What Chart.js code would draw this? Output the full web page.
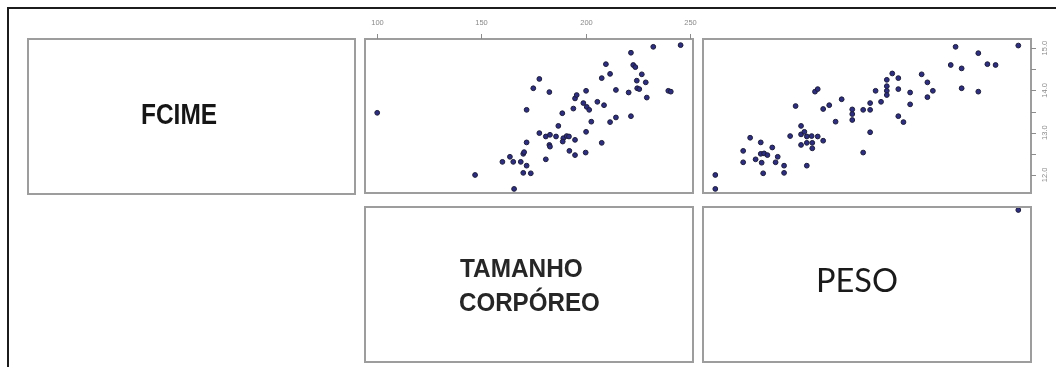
<!DOCTYPE html>
<html>
<head>
<meta charset="utf-8">
<script src="https://cdn.jsdelivr.net/npm/chart.js@4.4.1/dist/chart.umd.min.js"></script>
<style>
  html, body { margin: 0; padding: 0; background: #fff; width: 1056px; height: 367px; overflow: hidden; position: relative; }
  #frame { position: absolute; left: 7px; top: 7px; width: 1200px; height: 500px; border: 2px solid #1c1c1c; }
  .box { position: absolute; border: 2px solid #9d9d9d; box-sizing: border-box; }
  canvas { position: absolute; left: 0; top: 0; }
  .lbl { position: absolute; white-space: nowrap; transform-origin: 0 0; color: #1e1e1e; }
</style>
</head>
<body>
<div id="frame"></div>
<div class="box" style="left:27px;top:38px;width:329px;height:157px"></div>
<div class="box" style="left:364px;top:206px;width:330px;height:157px"></div>
<canvas id="c12" width="1056" height="367"></canvas>
<canvas id="c13" width="1056" height="367"></canvas>
<canvas id="c23" width="1056" height="367"></canvas>
<script>
// Variable names shown on the diagonal
const varNames = ['FCIME', 'TAMANHO', 'CORPÓREO', 'PESO'];

// Tick values
const tamanhoTicks = [100, 150, 200, 250];
const fcimeTicks = [12, 13, 14, 15];
const fcimeMinorTicks = [12.5, 13.5, 14.5];

// FCIME (y) against TAMANHO CORPÓREO (x)
const tamanho12 = [100.1, 147.0, 165.7, 160.1, 163.7, 165.3, 168.9, 170.1, 170.5, 171.7, 170.1, 173.7, 171.7, 171.7,
  174.9, 177.8, 182.6, 177.8, 180.9, 182.9, 182.6, 182.9, 180.9, 185.8, 186.9, 188.8, 189.3, 189.0, 190.9, 192.0,
  192.2, 194.9, 194.9, 194.1, 194.9, 195.7, 198.9, 200.2, 200.5, 201.7, 200.2, 200.0, 202.7, 205.6, 207.7, 208.8,
  209.7, 211.7, 207.7, 211.7, 214.5, 214.5, 220.6, 221.7, 222.8, 223.8, 224.5, 226.9, 224.7, 228.8, 225.7, 229.3,
  221.7, 232.4, 245.5, 239.6, 240.8];
const fcime12 = [13.47, 12.00, 11.67, 12.31, 12.43, 12.31, 12.31, 12.50, 12.54, 12.22, 12.05, 12.04, 12.77, 13.54,
  14.05, 14.27, 13.96, 12.99, 12.91, 12.95, 12.71, 12.67, 12.37, 12.91, 13.16, 13.46, 12.87, 12.79, 12.92, 12.91,
  12.57, 12.83, 12.47, 13.57, 13.81, 13.89, 13.70, 13.99, 13.61, 13.54, 13.02, 12.53, 13.26, 13.73, 14.29, 13.65,
  14.62, 14.39, 12.76, 13.25, 13.36, 14.01, 13.95, 14.89, 14.60, 14.55, 14.23, 14.38, 14.05, 14.19, 14.03, 13.83,
  13.39, 15.03, 15.07, 13.99, 13.97];

// FCIME (y) against PESO (x)
const peso13 = [20.0, 20.0, 29.2, 29.2, 31.5, 33.3, 35.0, 35.0, 35.3, 35.8, 36.1, 37.2, 38.8, 39.9, 40.6, 42.7, 42.7,
  44.7, 46.5, 48.3, 48.3, 48.3, 49.4, 50.2, 50.2, 50.2, 51.8, 52.0, 52.0, 53.8, 55.6, 52.9, 53.8, 55.6, 57.6, 59.7,
  61.7, 65.2, 65.2, 65.2, 68.8, 71.1, 71.1, 71.1, 68.8, 72.9, 74.7, 76.6, 76.6, 76.6, 76.6, 78.4, 80.4, 80.4, 80.4,
  82.1, 84.3, 84.3, 88.1, 90.0, 90.0, 91.8, 97.7, 99.3, 101.3, 101.3, 106.8, 106.8, 109.8, 112.5, 120.0];
const fcime13 = [12.00, 11.67, 12.57, 12.30, 12.88, 12.37, 12.77, 12.50, 12.29, 12.04, 12.51, 12.47, 12.65, 12.30,
  12.43, 12.22, 12.05, 12.92, 13.63, 13.16, 12.96, 12.71, 13.02, 12.91, 12.76, 12.22, 12.92, 12.76, 12.63, 12.91,
  12.81, 13.97, 14.03, 13.56, 13.65, 13.26, 13.79, 13.55, 13.44, 13.30, 13.54, 13.54, 13.70, 13.01, 12.53, 13.99,
  13.73, 14.25, 14.10, 13.99, 13.89, 14.40, 14.29, 14.03, 13.39, 13.25, 13.95, 13.67, 14.38, 14.19, 13.84, 13.99,
  14.60, 15.03, 14.52, 14.05, 14.88, 13.97, 14.62, 14.60, 15.06];

// TAMANHO CORPÓREO (y) against PESO (x)
const peso23 = [120.0];
const tamanho23 = [245.5];

const W = 1056, H = 367;

// Draws the panel frame plus optional top / right axes
const panelAxes = {
  id: 'panelAxes',
  afterDraw(chart, args, opts) {
    const { ctx, chartArea: a, scales } = chart;
    ctx.save();
    ctx.strokeStyle = '#9d9d9d';
    ctx.lineWidth = 2;
    ctx.strokeRect(a.left, a.top, a.right - a.left, a.bottom - a.top);

    ctx.strokeStyle = '#8c8c8c';
    ctx.fillStyle = '#8a8a8a';
    ctx.lineWidth = 1;
    ctx.font = '7.5px "Liberation Sans", Arial, sans-serif';
    if (opts.top) {
      ctx.textAlign = 'center';
      ctx.textBaseline = 'middle';
      opts.top.ticks.forEach(v => {
        const px = Math.round(scales.x.getPixelForValue(v)) + 0.5;
        ctx.beginPath();
        ctx.moveTo(px, a.top);
        ctx.lineTo(px, a.top - 5);
        ctx.stroke();
        ctx.fillText(String(v), px, a.top - 16);
      });
    }
    if (opts.right) {
      const all = opts.right.ticks.concat(opts.right.minor);
      all.forEach(v => {
        const py = Math.round(scales.y.getPixelForValue(v)) + 0.5;
        ctx.beginPath();
        ctx.moveTo(a.right, py);
        ctx.lineTo(a.right + 5, py);
        ctx.stroke();
      });
      ctx.textAlign = 'center';
      ctx.textBaseline = 'middle';
      opts.right.ticks.forEach(v => {
        const py = scales.y.getPixelForValue(v);
        ctx.save();
        ctx.translate(a.right + 14, py);
        ctx.rotate(-Math.PI / 2);
        ctx.fillText(v.toFixed(1), 0, 0);
        ctx.restore();
      });
    }
    ctx.restore();
  }
};

function panelChart(id, rect, xs, ys, xr, yr, axesOpts) {
  return new Chart(document.getElementById(id), {
    type: 'scatter',
    data: {
      datasets: [{
        data: xs.map((x, i) => ({ x: x, y: ys[i] })),
        pointRadius: 2.4,
        pointBackgroundColor: '#2e2e7e',
        pointBorderColor: '#1c1c3c',
        pointBorderWidth: 1,
        clip: false
      }]
    },
    options: {
      responsive: false,
      animation: false,
      events: [],
      layout: {
        autoPadding: false,
        padding: { left: rect[0], top: rect[1], right: W - rect[2], bottom: H - rect[3] }
      },
      plugins: {
        legend: { display: false },
        tooltip: { enabled: false },
        panelAxes: axesOpts
      },
      scales: {
        x: { type: 'linear', display: false, min: xr[0], max: xr[1] },
        y: { type: 'linear', display: false, min: yr[0], max: yr[1] }
      }
    },
    plugins: [panelAxes]
  });
}

const tamRange = [94.25, 251.44];
const fcimeRange = [11.574, 15.215];
const pesoRange = [15.94, 124.19];
const tamRangeRow2 = [94.0, 248.5];

panelChart('c12', [365, 39, 693, 193], tamanho12, fcime12, tamRange, fcimeRange,
  { top: { ticks: tamanhoTicks } });
panelChart('c13', [703, 39, 1031, 193], peso13, fcime13, pesoRange, fcimeRange,
  { right: { ticks: fcimeTicks, minor: fcimeMinorTicks } });
panelChart('c23', [703, 207, 1031, 362], peso23, tamanho23, pesoRange, tamRangeRow2, {});

// Diagonal labels, fitted to their ink box (left edge, baseline, width)
function placeLabel(text, font, inkLeft, baseline, inkWidth, color) {
  const c = document.createElement('canvas').getContext('2d');
  c.font = font;
  const m = c.measureText(text);
  const size = parseFloat(font.match(/([\d.]+)px/)[1]);
  const A = m.fontBoundingBoxAscent, D = m.fontBoundingBoxDescent;
  const ink = m.actualBoundingBoxRight + m.actualBoundingBoxLeft;
  const s = inkWidth / ink;
  const span = document.createElement('span');
  span.className = 'lbl';
  span.textContent = text;
  span.style.font = font;
  span.style.lineHeight = size + 'px';
  span.style.color = color;
  span.style.left = (inkLeft + m.actualBoundingBoxLeft * s) + 'px';
  span.style.top = (baseline - ((size - (A + D)) / 2 + A)) + 'px';
  span.style.transform = 'scaleX(' + s + ')';
  document.body.appendChild(span);
}

placeLabel(varNames[0], 'bold 29px "Liberation Sans", Arial, sans-serif', 142, 124, 75, '#161616');
placeLabel(varNames[1], 'bold 25.5px "Liberation Sans", Arial, sans-serif', 460, 278, 122, '#262626');
placeLabel(varNames[2], 'bold 25.5px "Liberation Sans", Arial, sans-serif', 460, 312, 139, '#262626');
placeLabel(varNames[3], '32.5px Lato, "Noto Sans", sans-serif', 818, 293, 79, '#1a1a1a');
</script>
</body>
</html>
